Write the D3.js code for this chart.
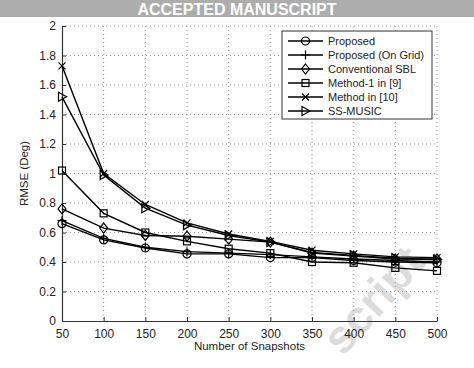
<!DOCTYPE html>
<html><head><meta charset="utf-8">
<script src="https://cdn.jsdelivr.net/npm/d3@7"></script>
<style>html,body{margin:0;padding:0;background:#fff;}svg{display:block;}</style>
</head><body>
<script>
const snapshots = [50,100,150,200,250,300,350,400,450,500];
const seriesNames = ["Proposed","Proposed (On Grid)","Conventional SBL","Method-1 in [9]","Method in [10]","SS-MUSIC"];
const markerTypes = ["circle","plus","diamond","square","cross","triangle"];
const proposed   = [0.66,0.55,0.495,0.455,0.455,0.43,0.43,0.41,0.40,0.395];
const onGrid     = [0.68,0.56,0.50,0.47,0.46,0.45,0.435,0.42,0.41,0.40];
const convSBL    = [0.76,0.63,0.58,0.575,0.555,0.535,0.46,0.44,0.42,0.42];
const method1    = [1.02,0.73,0.60,0.54,0.49,0.46,0.40,0.395,0.36,0.34];
const method10   = [1.73,1.00,0.79,0.665,0.59,0.54,0.48,0.455,0.435,0.43];
const ssMusic    = [1.52,0.99,0.765,0.65,0.58,0.535,0.465,0.445,0.425,0.415];
const seriesValues = [proposed,onGrid,convSBL,method1,method10,ssMusic];
const xTicks = [50,100,150,200,250,300,350,400,450,500];
const yTicks = [0,0.2,0.4,0.6,0.8,1,1.2,1.4,1.6,1.8,2];
const yTickLabels = ["0","0.2","0.4","0.6","0.8","1","1.2","1.4","1.6","1.8","2"];

const W=474,H=368;
const L=62,R=437,T=26,B=321;
const svg=d3.select("body").append("svg").attr("width",W).attr("height",H);
const font="'Liberation Sans', Arial, Helvetica, sans-serif";

const x=d3.scaleLinear().domain([50,500]).range([L,R]);
const y=d3.scaleLinear().domain([0,2]).range([B,T]);

// watermark
svg.append("text").attr("transform","translate(343,357) rotate(-48)")
  .attr("text-anchor","start").attr("font-family",font).attr("font-weight","bold")
  .attr("font-size",46).attr("fill","#dcdcdc").text("script");

// grid
const g=svg.append("g");
g.selectAll(".gx").data(xTicks.slice(1)).join("line")
  .attr("x1",d=>x(d)).attr("x2",d=>x(d)).attr("y1",T).attr("y2",B)
  .attr("stroke","#9a9a9a").attr("stroke-width",1).attr("stroke-dasharray","1,3");
g.selectAll(".gy").data(yTicks.slice(1)).join("line")
  .attr("y1",d=>y(d)).attr("y2",d=>y(d)).attr("x1",L).attr("x2",R)
  .attr("stroke","#9a9a9a").attr("stroke-width",1).attr("stroke-dasharray","1,3");

// axes
const xAxis=d3.axisBottom(x).tickValues(xTicks).tickSizeInner(-4).tickSizeOuter(0).tickPadding(8);
const yAxis=d3.axisLeft(y).tickValues(yTicks).tickSizeInner(-4).tickSizeOuter(0).tickPadding(6)
  .tickFormat((d,i)=>yTickLabels[i]);
const gx=svg.append("g").attr("transform",`translate(0,${B})`).call(xAxis);
const gy=svg.append("g").attr("transform",`translate(${L},0)`).call(yAxis);
[gx,gy].forEach(a=>{
  a.selectAll("path").attr("stroke","#333").attr("stroke-width",1.2);
  a.selectAll("line").attr("stroke","#333");
  a.selectAll("text").attr("font-family",font).attr("font-size",12).attr("fill","#222");
});

svg.append("text").attr("x",(L+R)/2).attr("y",350).attr("text-anchor","middle")
  .attr("font-family",font).attr("font-size",11.5).attr("fill","#222").text("Number of Snapshots");
svg.append("text").attr("transform",`translate(28,${(T+B)/2}) rotate(-90)`).attr("text-anchor","middle")
  .attr("font-family",font).attr("font-size",11.5).attr("fill","#222").text("RMSE (Deg)");

function drawMarker(sel,type){
  const s="#000";
  if(type==="circle") sel.append("circle").attr("r",4).attr("fill","none").attr("stroke",s).attr("stroke-width",1.2);
  else if(type==="plus") sel.append("path").attr("d","M-4.5,0H4.5M0,-4.5V4.5").attr("stroke",s).attr("stroke-width",1.2);
  else if(type==="diamond") sel.append("path").attr("d","M0,-5L4,0L0,5L-4,0Z").attr("fill","none").attr("stroke",s).attr("stroke-width",1.2);
  else if(type==="square") sel.append("rect").attr("x",-3.5).attr("y",-3.5).attr("width",7).attr("height",7).attr("fill","none").attr("stroke",s).attr("stroke-width",1.2);
  else if(type==="cross") sel.append("path").attr("d","M-3.5,-3.5L3.5,3.5M-3.5,3.5L3.5,-3.5").attr("stroke",s).attr("stroke-width",1.2);
  else if(type==="triangle") sel.append("path").attr("d","M-3.5,-4.5L4.5,0L-3.5,4.5Z").attr("fill","none").attr("stroke",s).attr("stroke-width",1.2);
}

const line=d3.line().x((d,i)=>x(snapshots[i])).y(d=>y(d));
seriesValues.forEach((vals,k)=>{
  svg.append("path").attr("d",line(vals)).attr("fill","none").attr("stroke","#000").attr("stroke-width",1.4);
  vals.forEach((v,i)=>{
    const m=svg.append("g").attr("transform",`translate(${x(snapshots[i])},${y(v)})`);
    drawMarker(m,markerTypes[k]);
  });
});

// legend
const lg=svg.append("g");
lg.append("rect").attr("x",282).attr("y",31).attr("width",150).attr("height",88)
  .attr("fill","#fff").attr("stroke","#333").attr("stroke-width",1);
seriesNames.forEach((n,k)=>{
  const yy=41+k*14;
  lg.append("line").attr("x1",288).attr("x2",323).attr("y1",yy).attr("y2",yy).attr("stroke","#000").attr("stroke-width",1.3);
  const m=lg.append("g").attr("transform",`translate(305.5,${yy})`);
  drawMarker(m,markerTypes[k]);
  lg.append("text").attr("x",328).attr("y",yy+4).attr("font-family",font).attr("font-size",11)
    .attr("fill","#222").text(n);
});

// banner
svg.append("rect").attr("x",0).attr("y",0).attr("width",W).attr("height",17).attr("fill","#adadad");
svg.append("text").attr("x",237).attr("y",14.5).attr("text-anchor","middle").attr("font-family",font)
  .attr("font-weight","bold").attr("font-size",16).attr("fill","#fff").text("ACCEPTED MANUSCRIPT");
</script>
</body></html>
